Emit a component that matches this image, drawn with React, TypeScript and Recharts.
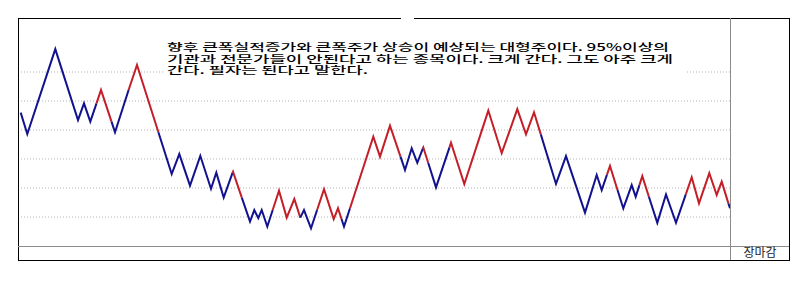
import React from "react";
import { LineChart, Line, XAxis, YAxis, ReferenceLine } from "recharts";

// Position along the chart (cumulative move) for each turning / colour-change point
const positions = [
  2.7, 9.3, 37.3, 60, 66, 72.3, 78.5, 83, 93.5, 97, 110.6, 119, 140.4, 153.7, 161.3, 172, 182.3, 193, 198.3, 205.7,
  214.6, 215, 223.8, 232, 236.3, 240.3, 243.7, 249.3, 254.7, 261, 268.7, 276.3, 282.3, 286, 293, 299.1, 306, 315.7,
  320, 323.5, 326, 332, 355.3, 362, 372, 382.5, 387, 393.7, 399.3, 404.9, 405.3, 410.2, 418, 431.5, 433, 446.3,
  470.3, 483.7, 499.3, 508, 516, 522.8, 538, 548, 567, 578.7, 583.7, 588.9, 592, 599.5, 605.3, 613.7, 617.7, 621.4,
  624.3, 630.9, 639.3, 648, 658, 667.8, 673.7, 681, 691.3, 698.7, 703.7, 710.4, 712,
];

// Price at each point
const prices = [
  14600, 13860, 16790, 14340, 14920, 14290, 14920, 15380, 14290, 13920, 15380, 16240, 13920, 12480, 13170, 12080,
  13110, 11970, 12530, 11670, 12530, 12560, 11670, 10840, 11240, 10960, 11240, 10670, 11240, 11910, 10980, 11620,
  10980, 11240, 10610, 11240, 11960, 10930, 11300, 10930, 10670, 11300, 13770, 13080, 14150, 13080, 12620, 13370,
  12870, 13370, 13400, 12870, 12020, 13400, 13560, 12140, 14670, 13200, 14720, 13850, 14610, 13850, 12140, 13100,
  11150, 12450, 11930, 12450, 12760, 11930, 11300, 12100, 11700, 12100, 12410, 11700, 10800, 11780, 10800, 11780,
  12370, 11470, 12510, 11760, 12220, 11470, 11300,
];

// Trend of the segment arriving at each point: "u" = 양선 (red), "d" = 음선 (blue)
const trend = [
  "", "d", "d", "d", "d", "d", "d", "u", "u", "d", "d", "u", "u", "d", "d", "d", "d", "d", "d", "d",
  "d", "u", "u", "d", "d", "d", "d", "d", "d", "u", "u", "u", "u", "d", "d", "d", "u", "u", "u", "u",
  "d", "d", "u", "u", "u", "u", "d", "d", "d", "d", "u", "u", "d", "d", "u", "u", "u", "u", "u", "u",
  "u", "u", "d", "d", "d", "d", "d", "d", "u", "u", "d", "d", "d", "d", "u", "u", "d", "d", "d", "d",
  "u", "u", "u", "u", "u", "u", "d",
];

const gridValues = [11000, 12000, 13000, 14000, 15000, 16000];

const textLines = [
  "향후 큰폭실적증가와 큰폭주가 상승이 예상되는 대형주이다. 95%이상의",
  "기관과 전문가들이 안된다고 하는 종목이다. 크게 간다. 그도 아주 크게",
  "간다. 필자는 된다고 말한다.",
];
const textWidths = [502, 506, 201];
const closeLabel = "장마감";

const UP = "#c41e28";
const DOWN = "#12128f";

type Pt = { pos: number; price: number };
type Run = { color: string; pts: Pt[] };

function buildRuns(): Run[] {
  const runs: Run[] = [];
  for (let i = 1; i < positions.length; i++) {
    const c = trend[i];
    const prev = { pos: positions[i - 1], price: prices[i - 1] };
    const cur = { pos: positions[i], price: prices[i] };
    const last = runs[runs.length - 1];
    if (last && last.color === c) {
      last.pts.push(cur);
    } else {
      runs.push({ color: c, pts: [prev, cur] });
    }
  }
  return runs;
}

export default function App() {
  const runs = buildRuns();
  const W = 790;
  const H = 260;
  return (
    <div style={{ position: "relative", width: W, height: H }}>
      <LineChart width={W} height={H} margin={{ top: 10, left: 10, right: 68, bottom: 22 }}>
        <XAxis type="number" dataKey="pos" domain={[0, 712]} hide allowDataOverflow />
        <YAxis type="number" domain={[10000, 17862]} hide allowDataOverflow />
        {gridValues.map((v) => (
          <ReferenceLine key={v} y={v} stroke="#b4b4b4" strokeDasharray="1 2" />
        ))}
        {runs.map((r, i) => (
          <Line
            key={i}
            data={r.pts}
            dataKey="price"
            type="linear"
            stroke={r.color === "u" ? UP : DOWN}
            strokeWidth={2}
            dot={false}
            activeDot={false}
            isAnimationActive={false}
          />
        ))}
      </LineChart>
      <svg
        width={W}
        height={H}
        style={{ position: "absolute", left: 0, top: 0, pointerEvents: "none" }}
      >
        <rect x={157} y={28} width={522} height={42} fill="#ffffff" />
        <rect x={10.5} y={10.5} width={771} height={242} fill="none" stroke="#000" strokeWidth={1} />
        <rect x={393} y={9} width={13} height={3} fill="#ffffff" />
        <line x1={722.5} y1={10} x2={722.5} y2={252} stroke="#8c8c8c" strokeWidth={1} />
        <line x1={10} y1={238.5} x2={781} y2={238.5} stroke="#8c8c8c" strokeWidth={1} />
        <text
          x={159}
          y={43}
          fontFamily="'Noto Sans CJK KR', sans-serif"
          fontSize={10.2}
          fontWeight={500}
          fill="#000"
        >
          {textLines.map((t, i) => (
            <tspan
              key={i}
              x={159}
              dy={i === 0 ? 0 : 11.5}
              textLength={textWidths[i]}
              lengthAdjust="spacingAndGlyphs"
            >
              {t}
            </tspan>
          ))}
        </text>
        <text
          x={752}
          y={249}
          textAnchor="middle"
          fontFamily="'Noto Sans CJK KR', sans-serif"
          fontSize={12}
          fill="#222"
        >
          {closeLabel}
        </text>
      </svg>
    </div>
  );
}
